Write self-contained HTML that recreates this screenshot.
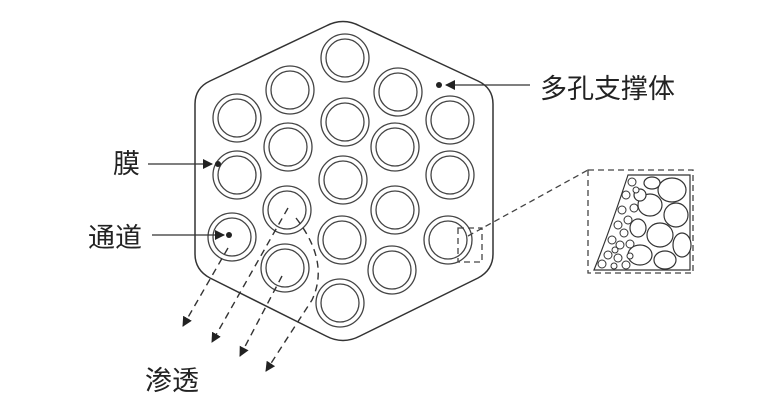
<!DOCTYPE html>
<html><head><meta charset="utf-8"><style>
html,body{margin:0;padding:0;background:#fff;}
svg{display:block;}
text{font-family:"Liberation Sans","Noto Sans CJK SC",sans-serif;font-size:27px;fill:#222;}
</style></head><body>
<svg width="760" height="413" viewBox="0 0 760 413" xmlns="http://www.w3.org/2000/svg">
<defs>
<marker id="ah" markerWidth="10" markerHeight="10" refX="9" refY="5" orient="auto" markerUnits="userSpaceOnUse"><path d="M0,0 L10,5 L0,10 Z" fill="#222"/></marker>
</defs>
<path d="M326,26 Q343,17 360,26 L478,81 Q493,88 493,104 L493,254 Q493,270 478,278 L360,336 Q343,345 326,336 L210,278 Q195,270 195,254 L195,104 Q195,88 210,81 Z" fill="none" stroke="#333" stroke-width="1.5"/>
<g fill="none" stroke="#444" stroke-width="1.3">
<circle cx="345" cy="58" r="24"/><circle cx="345" cy="58" r="19"/>
<circle cx="290" cy="90" r="24"/><circle cx="290" cy="90" r="19"/>
<circle cx="398" cy="92" r="24"/><circle cx="398" cy="92" r="19"/>
<circle cx="237" cy="118" r="24"/><circle cx="237" cy="118" r="19"/>
<circle cx="345" cy="122" r="24"/><circle cx="345" cy="122" r="19"/>
<circle cx="450" cy="120" r="24"/><circle cx="450" cy="120" r="19"/>
<circle cx="288" cy="147" r="24"/><circle cx="288" cy="147" r="19"/>
<circle cx="395" cy="147" r="24"/><circle cx="395" cy="147" r="19"/>
<circle cx="237" cy="175" r="24"/><circle cx="237" cy="175" r="19"/>
<circle cx="343" cy="180" r="24"/><circle cx="343" cy="180" r="19"/>
<circle cx="450" cy="175" r="24"/><circle cx="450" cy="175" r="19"/>
<circle cx="287" cy="210" r="24"/><circle cx="287" cy="210" r="19"/>
<circle cx="395" cy="210" r="24"/><circle cx="395" cy="210" r="19"/>
<circle cx="232" cy="237" r="24"/><circle cx="232" cy="237" r="19"/>
<circle cx="342" cy="240" r="24"/><circle cx="342" cy="240" r="19"/>
<circle cx="448" cy="240" r="24"/><circle cx="448" cy="240" r="19"/>
<circle cx="285" cy="268" r="24"/><circle cx="285" cy="268" r="19"/>
<circle cx="392" cy="270" r="24"/><circle cx="392" cy="270" r="19"/>
<circle cx="340" cy="303" r="24"/><circle cx="340" cy="303" r="19"/>
</g>
<g stroke="#333" stroke-width="1.3">
<line x1="530" y1="85" x2="446" y2="85" marker-end="url(#ah)"/>
<line x1="148" y1="164" x2="212" y2="164" marker-end="url(#ah)"/>
<line x1="152" y1="235" x2="224" y2="235" marker-end="url(#ah)"/>
</g>
<circle cx="439" cy="85" r="3" fill="#222"/>
<circle cx="218" cy="164" r="3" fill="#222"/>
<circle cx="229" cy="235" r="3" fill="#222"/>
<g fill="none" stroke="#333" stroke-width="1.4" stroke-dasharray="7,5">
<line x1="228" y1="248" x2="183" y2="326" marker-end="url(#ah)"/>
<line x1="288" y1="208" x2="212" y2="342" marker-end="url(#ah)"/>
<line x1="282" y1="276" x2="240" y2="356" marker-end="url(#ah)"/>
<path d="M296,218 Q330,262 312,300 L266,371" marker-end="url(#ah)"/>
</g>
<g fill="none" stroke="#444" stroke-width="1.3" stroke-dasharray="6,4">
<rect x="458" y="228" width="24" height="34"/>
<line x1="468" y1="236" x2="588" y2="170"/>
<rect x="588" y="170" width="105" height="103"/>
</g>
<g fill="#fff" stroke="#333" stroke-width="1.2">
<path d="M628,175 L690,175 L690,270 L594,270 Q610,230 628,175 Z"/>
<ellipse cx="672" cy="190" rx="14" ry="12"/><ellipse cx="650" cy="205" rx="12" ry="11"/>
<ellipse cx="676" cy="215" rx="12" ry="12"/><ellipse cx="660" cy="235" rx="13" ry="12"/>
<ellipse cx="682" cy="245" rx="9" ry="12"/><ellipse cx="640" cy="255" rx="12" ry="10"/>
<ellipse cx="665" cy="260" rx="11" ry="9"/><ellipse cx="638" cy="228" rx="8" ry="9"/>
<ellipse cx="652" cy="183" rx="8" ry="6"/><ellipse cx="640" cy="195" rx="6" ry="6"/>
<g stroke-width="1">
<circle cx="632" cy="182" r="4"/><circle cx="626" cy="195" r="4"/><circle cx="634" cy="208" r="4"/>
<circle cx="622" cy="210" r="4"/><circle cx="628" cy="220" r="4"/><circle cx="618" cy="225" r="4"/>
<circle cx="624" cy="233" r="4"/><circle cx="612" cy="240" r="4"/><circle cx="620" cy="245" r="4"/>
<circle cx="608" cy="255" r="4"/><circle cx="618" cy="258" r="4"/><circle cx="602" cy="264" r="4"/>
<circle cx="626" cy="265" r="4"/><circle cx="630" cy="244" r="4"/><circle cx="614" cy="266" r="3"/>
<circle cx="636" cy="190" r="3"/><circle cx="615" cy="250" r="3"/><circle cx="630" cy="256" r="3"/>
</g>
</g>
<text x="540" y="98">多孔支撑体</text>
<text x="113" y="173">膜</text>
<text x="88" y="247">通道</text>
<text x="145" y="390">渗透</text>
</svg>
</body></html>
